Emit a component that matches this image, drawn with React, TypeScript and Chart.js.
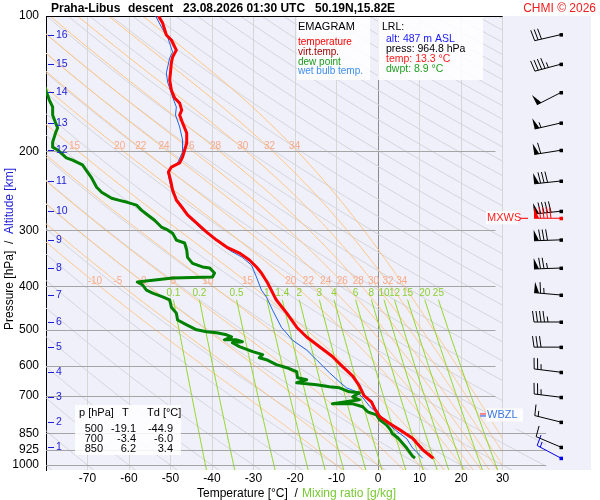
import React, { useEffect, useRef } from 'react';
import { Chart, registerables } from 'chart.js';

Chart.register(...registerables);

const FONT = "'Liberation Sans', Arial, sans-serif";

// axes
const pressureTicks = [100, 200, 300, 400, 500, 600, 700, 850, 925, 1000];
const tempTicks = [-70, -60, -50, -40, -30, -20, -10, 0, 10, 20, 30];

// altitude marks [km] with their pressure [hPa]
const altKm = [1, 2, 3, 4, 5, 6, 7, 8, 9, 10, 11, 12, 13, 14, 15, 16];
const altPres = [912, 802, 706, 621, 546, 480, 418, 364, 315, 272, 233, 199, 173, 148, 128, 110];

// wind at the altitude marks (same order as altKm)
const windDir = [293, 284, 277, 277, 270, 270, 275, 268, 268, 264, 264, 261, 257, 243, 255, 257];
const windSpd = [10, 15, 25, 25, 30, 45, 65, 75, 80, 90, 80, 60, 55, 50, 45, 30];
const sfcWind = { p: 964.8, dir: 298, spd: 15 };
const maxWind = { p: 282, dir: 270, spd: 90 };
const wbzlPres = 775;

// temperature
const tempPres = [100, 103.7, 110.2, 113.1, 119.1, 123.4, 127.2, 133.2, 138.9, 146.1, 152.3, 156.3, 162, 166.1, 173, 182.2, 191.9, 198.7, 206, 212.4, 216.9, 222.5, 231.8, 244, 256.8, 266.2, 277.3, 289, 302.8, 315.4, 326.9, 337.1, 349.4, 362, 373.3, 393, 422.1, 428.8, 458.6, 493, 518.3, 545, 573, 602.5, 633.5, 666, 700, 723, 749, 780, 808, 842, 871, 923, 959, 964.8];
const tempVals = [-52.9, -51.9, -51.0, -49.8, -48.6, -49.5, -49.8, -50.0, -50.2, -49.8, -49.0, -47.8, -47.3, -47.8, -47.1, -46.1, -46.1, -46.6, -47.1, -47.8, -49.8, -50.5, -50.0, -49.5, -48.6, -47.3, -45.9, -43.7, -41.3, -38.9, -36.5, -33.4, -31.0, -29.3, -28.1, -26.6, -24.9, -24.5, -22.0, -19.6, -17.2, -14.1, -11.0, -8.6, -6.1, -4.5, -3.4, -1.6, -0.8, 0.4, 2.8, 5.9, 8.3, 10.7, 12.9, 13.3];

// virtual temperature (lower part, upper part coincides with temperature)
const virtPres = [964.8, 923, 871, 842, 808, 780, 749, 723, 700, 666, 633.5, 602.5, 573, 545, 518.3, 493];
const virtVals = [13.6, 11.0, 8.6, 6.2, 3.1, 0.7, -0.6, -1.4, -3.2, -4.4, -6.0, -8.5, -10.9, -14.0, -17.2, -19.6];

// dew point
const dewPres = [138, 142.5, 147.6, 153.9, 159.4, 166.1, 174.8, 177.5, 182.2, 190.9, 195.9, 198.7, 207, 209.3, 214.6, 222.5, 229.4, 240.5, 246.8, 254.6, 257.3, 259.9, 263.6, 270.5, 277.3, 284.6, 295, 299.4, 304.4, 315.4, 320.2, 331.8, 344.6, 355.4, 362, 363.8, 373.3, 381.1, 383.1, 391, 397.2, 407.6, 414, 422.1, 428.6, 445, 458.6, 475.1, 487.1, 499.6, 504.7, 507.3, 512.5, 517.8, 525.8, 525.9, 531.1, 533.9, 544.5, 558.7, 567.5, 576.4, 582.3, 597.4, 606.8, 619.4, 638.8, 645.3, 655.4, 662.2, 669.1, 672.6, 686.4, 690, 704.3, 715.2, 726.4, 730, 730.1, 741.3, 760.6, 772.4, 792.5, 813.2, 834.5, 850, 870, 916, 955, 964.8];
const dewVals = [-81, -80.4, -79.9, -79.2, -78.4, -78.4, -77.5, -77.2, -77.7, -78.4, -78.4, -77.2, -75.1, -73.6, -71.2, -70.0, -69.0, -67.8, -66.6, -64.2, -62.3, -60.4, -58.2, -57.0, -55.5, -53.9, -52.2, -50.7, -49.5, -48.6, -46.6, -46.1, -45.9, -44.7, -42.3, -40.6, -39.4, -39.9, -49.5, -58.0, -56.7, -55.8, -54.3, -51.9, -50.2, -49.8, -48.6, -48.3, -46.1, -43.7, -41.3, -38.9, -36.5, -35.3, -37.0, -34.1, -32.7, -35.1, -33.4, -30.2, -27.8, -28.6, -26.9, -24.5, -22.0, -19.6, -19.4, -17.2, -19.6, -14.8, -11.7, -9.3, -6.9, -4.5, -6.1, -4.5, -9.3, -11.0, -6.1, -3.7, -2.5, -0.4, 0.4, 2.0, 3.0, 3.4, 4.8, 6.9, 8.3, 8.9];

// wet bulb temperature
const wbPres = [100, 105.8, 109.1, 111.4, 120.3, 124, 133.9, 140.3, 151.5, 159.4, 166.1, 176.6, 188.8, 200.8, 212.4, 221.3, 234.2, 248.1, 263.6, 281.8, 299.4, 315.4, 332.3, 344.6, 358.7, 381.1, 407.6, 422.1, 451.9, 493, 527, 554.3, 583, 622.6, 652.4, 672.6, 686.2, 707.3, 740, 763, 802.7, 840, 873, 915, 960, 964.8];
const wbVals = [-53.6, -52.2, -51.4, -50.7, -49.5, -50.2, -51.0, -50.7, -49.5, -48.6, -48.8, -47.8, -47.1, -47.1, -48.3, -50.7, -50.2, -49.5, -47.8, -45.4, -42.3, -38.9, -35.8, -32.7, -30.5, -29.3, -28.1, -26.9, -25.4, -23.3, -20.6, -17.2, -14.8, -11.7, -9.3, -7.6, -5.2, -3.7, -2.0, -0.4, 2.0, 4.5, 6.9, 8.3, 10.5, 10.7];

// background lines
const dryAdiabats: number[] = [];
for (let th = -80; th <= 370; th += 10) dryAdiabats.push(th); // potential temperature [°C]
const satAdiabats = [-10, -5, 0, 5, 10, 15, 20, 22, 24, 26, 28, 30, 32, 34];
const mixRatios = [0.1, 0.2, 0.5, 1, 1.4, 2, 3, 4, 6, 8, 10, 12, 15, 20, 25];
const satLabelPres = [392, 197];

// table in the lower left corner
const tablePres = [500, 700, 850];
const tableT = [-19.1, -3.4, 6.2];
const tableTd = [-44.9, -6.0, 3.4];

// lifted reference level
const lrl = { alt: 487, press: 964.8, temp: 13.3, dwpt: 8.9 };

// --- thermodynamics for the diagram lines ---
function esat(tK: number) {
  const tc = tK - 273.15;
  return 6.112 * Math.exp((17.67 * tc) / (tc + 243.5));
}

function moistGrad(p: number, tK: number) {
  const es = esat(tK);
  const rs = (0.622 * es) / (p - es);
  const Lv = 2.501e6, Rd = 287.04, cp = 1005.7;
  return (Rd * tK + Lv * rs) / (p * (cp + (Lv * Lv * rs * 0.622) / (Rd * tK * tK)));
}

function pseudoAdiabat(thw: number): [number, number][] {
  const low: [number, number][] = [];
  let pl = 1000, tl = thw + 273.15;
  for (let i = 0; i < 6; i++) {
    const dp = 5;
    const k1 = moistGrad(pl, tl);
    tl += moistGrad(pl + dp / 2, tl + (k1 * dp) / 2) * dp;
    pl += dp;
    low.push([pl, tl]);
  }
  const out: [number, number][] = low.reverse();
  let p = 1000, t = thw + 273.15;
  out.push([p, t]);
  const dp = -2;
  while (p > 100) {
    const k1 = moistGrad(p, t);
    t += moistGrad(p + dp / 2, t + (k1 * dp) / 2) * dp;
    p += dp;
    out.push([p, t]);
  }
  return out;
}

function tempAt(pts: [number, number][], p: number) {
  for (let i = 0; i < pts.length - 1; i++) {
    const [p1, t1] = pts[i];
    const [p2, t2] = pts[i + 1];
    if (p1 >= p && p >= p2) return t1 + ((t2 - t1) * (p - p1)) / (p2 - p1) - 273.15;
  }
  return NaN;
}

function mixTemp(w: number, p: number) {
  const e = (w * p) / (622 + w);
  const l = Math.log(e / 6.112);
  return (243.5 * l) / (17.67 - l);
}

const satLines = satAdiabats.map((thw) => ({ thw, pts: pseudoAdiabat(thw) }));

const pLevels: number[] = [];
for (let p = 1030; p >= 100; p -= 10) pLevels.push(p);

function drawBarb(ctx: CanvasRenderingContext2D, x: number, y: number, dir: number, spd: number, color: string) {
  const r = (dir * Math.PI) / 180;
  const ux = Math.sin(r), uy = -Math.cos(r);
  const nx = -uy, ny = ux;
  const len = 27, bl = 11;
  const ex = x + ux * len, ey = y + uy * len;
  const at = (d: number) => [ex - ux * d, ey - uy * d];
  ctx.save();
  ctx.strokeStyle = color;
  ctx.fillStyle = color;
  ctx.lineWidth = 1;
  ctx.beginPath();
  ctx.moveTo(x, y);
  ctx.lineTo(ex, ey);
  ctx.stroke();
  ctx.fillRect(x - 1.5, y - 1.5, 3.5, 3.5);
  let s = Math.round(spd / 5) * 5;
  let pos = 0;
  while (s >= 50) {
    const [bx, by] = at(pos);
    const [cx, cy] = at(pos + 5);
    ctx.beginPath();
    ctx.moveTo(bx + nx * bl, by + ny * bl);
    ctx.lineTo(bx, by);
    ctx.lineTo(cx, cy);
    ctx.closePath();
    ctx.fill();
    pos += 6.5;
    s -= 50;
  }
  while (s >= 10) {
    const [bx, by] = at(pos);
    ctx.beginPath();
    ctx.moveTo(bx, by);
    ctx.lineTo(bx + nx * bl + ux * 1.5, by + ny * bl + uy * 1.5);
    ctx.stroke();
    pos += 3.5;
    s -= 10;
  }
  if (s >= 5) {
    if (pos === 0) pos = 3.5;
    const [bx, by] = at(pos);
    ctx.beginPath();
    ctx.moveTo(bx, by);
    ctx.lineTo(bx + (nx * bl) / 2 + ux * 0.8, by + (ny * bl) / 2 + uy * 0.8);
    ctx.stroke();
  }
  ctx.restore();
}

const emagramPlugin = {
  id: 'emagram',
  beforeDraw(chart: any) {
    const { ctx, chartArea: a } = chart;
    ctx.save();
    ctx.fillStyle = '#ffffff';
    ctx.fillRect(0, 0, chart.width, chart.height);
    ctx.fillStyle = '#f0f0fa';
    ctx.fillRect(a.left, a.top, a.right - a.left, a.bottom - a.top);
    ctx.restore();
  },
  beforeDatasetsDraw(chart: any) {
    const { ctx, chartArea: a, scales } = chart;
    const X = (t: number) => scales.x.getPixelForValue(t);
    const Y = (p: number) => scales.y.getPixelForValue(p);

    // dry adiabats
    ctx.save();
    ctx.beginPath();
    ctx.moveTo(a.left, a.top);
    ctx.lineTo(X(30), a.top);
    ctx.lineTo(X(30), Y(830));
    ctx.lineTo(X(40.5), Y(830));
    ctx.lineTo(X(40.5), a.bottom);
    ctx.lineTo(a.left, a.bottom);
    ctx.closePath();
    ctx.clip();
    ctx.strokeStyle = 'rgb(212,212,218)';
    ctx.lineWidth = 1;
    dryAdiabats.forEach((th) => {
      ctx.beginPath();
      pLevels.forEach((p, i) => {
        const t = (th + 273.15) * Math.pow(p / 1000, 0.2857) - 273.15;
        if (i === 0) ctx.moveTo(X(t), Y(p));
        else ctx.lineTo(X(t), Y(p));
      });
      ctx.stroke();
    });
    ctx.restore();

    ctx.save();
    ctx.beginPath();
    ctx.rect(a.left, a.top, X(30) - a.left, a.bottom - a.top);
    ctx.clip();
    // saturated adiabats
    ctx.strokeStyle = 'rgb(255,196,130)';
    satLines.forEach(({ pts }) => {
      ctx.beginPath();
      pts.forEach(([p, t], i) => {
        if (i === 0) ctx.moveTo(X(t - 273.15), Y(p));
        else ctx.lineTo(X(t - 273.15), Y(p));
      });
      ctx.stroke();
    });
    // mixing ratio lines
    ctx.strokeStyle = 'rgb(146,214,40)';
    mixRatios.forEach((w) => {
      ctx.beginPath();
      for (let p = 1030; p >= 428; p -= 10) {
        const t = mixTemp(w, p);
        if (p === 1030) ctx.moveTo(X(t), Y(p));
        else ctx.lineTo(X(t), Y(p));
      }
      ctx.lineTo(X(mixTemp(w, 428)), Y(428));
      ctx.stroke();
    });
    ctx.restore();

    // labels of background lines
    ctx.save();
    ctx.font = `10px ${FONT}`;
    ctx.textAlign = 'center';
    ctx.textBaseline = 'middle';
    ctx.fillStyle = 'rgb(246,170,140)';
    satLabelPres.forEach((pl, k) => {
      const yl = Y(pressureTicks[k === 0 ? 3 : 1]) - 5;
      satLines.forEach(({ thw, pts }) => {
        const x = X(tempAt(pts, pl));
        if (x > a.left + 8 && x < X(30) - 4) ctx.fillText(String(thw), x, yl);
      });
    });
    ctx.fillStyle = 'rgb(140,208,50)';
    mixRatios.forEach((w) => {
      ctx.fillText(String(w), X(mixTemp(w, 428)), Y(428) - 6);
    });
    ctx.restore();

    // pressure grid
    ctx.save();
    ctx.lineWidth = 1;
    pressureTicks.forEach((p) => {
      const y = Math.round(Y(p)) + 0.5;
      ctx.strokeStyle = p === 100 ? '#000000' : 'rgb(165,165,165)';
      const xe = p === 100 ? X(30) : p >= 800 ? X(40.5) : X(28.3);
      ctx.beginPath();
      ctx.moveTo(a.left, y);
      ctx.lineTo(xe, y);
      ctx.stroke();
    });
    ctx.restore();
  },
  afterDraw(chart: any) {
    const { ctx, chartArea: a, scales } = chart;
    const Y = (p: number) => scales.y.getPixelForValue(p);
    ctx.save();

    // title
    ctx.textBaseline = 'alphabetic';
    ctx.textAlign = 'left';
    ctx.fillStyle = '#000';
    ctx.font = `bold 12px ${FONT}`;
    ctx.fillText('Praha-Libus', 51, 12);
    ctx.fillText('descent', 128, 12);
    ctx.fillText('23.08.2026 01:30 UTC', 183, 12);
    ctx.fillText('50.19N,15.82E', 315, 12);
    ctx.font = `12px ${FONT}`;
    ctx.fillStyle = '#ee1c1c';
    ctx.textAlign = 'right';
    ctx.fillText('CHMI \u00a9 2026', 596, 12);

    // axis titles
    ctx.textAlign = 'left';
    ctx.fillStyle = '#000';
    ctx.fillText('Temperature [\u00b0C]  /', 197, 497);
    ctx.fillStyle = 'rgb(120,200,50)';
    ctx.fillText('Mixing ratio [g/kg]', 302, 497);

    ctx.save();
    ctx.translate(13, 249);
    ctx.rotate(-Math.PI / 2);
    const p1 = 'Pressure [hPa]  /  ';
    const p2 = 'Altitude [km]';
    const w1 = ctx.measureText(p1).width;
    const w2 = ctx.measureText(p2).width;
    ctx.fillStyle = '#000';
    ctx.fillText(p1, -(w1 + w2) / 2, 0);
    ctx.fillStyle = '#1c1cd8';
    ctx.fillText(p2, -(w1 + w2) / 2 + w1, 0);
    ctx.restore();

    // altitude marks
    ctx.font = `10.5px ${FONT}`;
    ctx.textBaseline = 'middle';
    ctx.fillStyle = '#1c1cd8';
    ctx.strokeStyle = '#1c1cd8';
    altKm.forEach((km, i) => {
      const y = Math.round(Y(altPres[i])) + 0.5;
      ctx.beginPath();
      ctx.moveTo(a.left + 2, y);
      ctx.lineTo(a.left + 8, y);
      ctx.stroke();
      ctx.fillText(String(km), a.left + 10, y);
    });

    // legend box
    ctx.fillStyle = 'rgba(255,255,255,0.85)';
    ctx.fillRect(297, 17, 73, 63);
    ctx.fillRect(378, 17, 105, 63);
    ctx.textBaseline = 'alphabetic';
    ctx.font = `11px ${FONT}`;
    ctx.fillStyle = '#000';
    ctx.fillText('EMAGRAM', 298, 30);
    ctx.font = `10px ${FONT}`;
    ctx.fillStyle = '#ff0000';
    ctx.fillText('temperature', 298, 45);
    ctx.fillStyle = '#a00000';
    ctx.fillText('virt.temp.', 298, 55);
    ctx.fillStyle = '#1a9a1a';
    ctx.fillText('dew point', 298, 65);
    ctx.fillStyle = '#3c8cf0';
    ctx.fillText('wet bulb temp.', 298, 74);

    ctx.font = `10.5px ${FONT}`;
    ctx.fillStyle = '#000';
    ctx.fillText('LRL:', 382, 30);
    ctx.fillStyle = '#1a1aff';
    ctx.fillText(`alt: ${lrl.alt} m ASL`, 386, 42);
    ctx.fillStyle = '#000';
    ctx.fillText(`press: ${lrl.press.toFixed(1)} hPa`, 386, 52);
    ctx.fillStyle = '#ff1a1a';
    ctx.fillText(`temp: ${lrl.temp.toFixed(1)} \u00b0C`, 386, 62);
    ctx.fillStyle = '#22a022';
    ctx.fillText(`dwpt: ${lrl.dwpt.toFixed(1)} \u00b0C`, 386, 72);

    // table
    ctx.fillStyle = 'rgba(255,255,255,0.85)';
    ctx.fillRect(75, 405, 106, 50);
    ctx.fillStyle = '#000';
    ctx.font = `11px ${FONT}`;
    ctx.textAlign = 'left';
    ctx.fillText('p [hPa]', 79, 416);
    ctx.fillText('T', 122, 416);
    ctx.fillText('Td [\u00b0C]', 147, 416);
    ctx.textAlign = 'right';
    tablePres.forEach((p, i) => {
      const y = 432 + i * 10;
      ctx.fillText(String(p), 103, y);
      ctx.fillText(tableT[i].toFixed(1), 136, y);
      ctx.fillText(tableTd[i].toFixed(1), 173, y);
    });

    // wind barbs
    const bx = a.right - 30;
    altPres.forEach((p, i) => drawBarb(ctx, bx, Y(p), windDir[i], windSpd[i], '#000'));
    drawBarb(ctx, bx, Y(sfcWind.p), sfcWind.dir, sfcWind.spd, '#0000ee');
    drawBarb(ctx, bx, Y(maxWind.p), maxWind.dir, maxWind.spd, '#ff0000');

    // MXWS
    const ym = Y(maxWind.p);
    ctx.fillStyle = 'rgba(255,255,255,0.85)';
    ctx.fillRect(486, ym - 7, 32, 13);
    ctx.textAlign = 'left';
    ctx.textBaseline = 'middle';
    ctx.font = `11px ${FONT}`;
    ctx.fillStyle = '#ff2020';
    ctx.fillText('MXWS', 487, ym);
    ctx.fillRect(520, ym - 0.5, 8, 1.2);

    // WBZL
    const yw = Y(wbzlPres);
    ctx.fillStyle = 'rgba(255,255,255,0.85)';
    ctx.fillRect(486, yw - 7, 37, 13);
    ctx.fillStyle = '#ff2020';
    ctx.fillRect(480, yw - 2, 6, 1);
    ctx.fillStyle = '#2050e0';
    ctx.fillRect(480, yw, 6, 1);
    ctx.fillStyle = '#3c78e0';
    ctx.fillText('WBZL', 487, yw);

    ctx.restore();
  },
};

const series = (pres: number[], vals: number[]) => pres.map((p, i) => ({ x: vals[i], y: p }));

const lineStyle = { showLine: true, pointRadius: 0, tension: 0, borderJoinStyle: 'round' as const };

export default function App() {
  const canvasRef = useRef<HTMLCanvasElement | null>(null);

  useEffect(() => {
    if (!canvasRef.current) return;
    const chart = new Chart(canvasRef.current, {
      type: 'scatter',
      data: {
        datasets: [
          { ...lineStyle, label: 'temperature', data: series(tempPres, tempVals), borderColor: '#ff0000', borderWidth: 3, order: 0 },
          { ...lineStyle, label: 'dew point', data: series(dewPres, dewVals), borderColor: '#008200', borderWidth: 3, order: 1 },
          { ...lineStyle, label: 'virt.temp.', data: series(virtPres, virtVals), borderColor: '#a00000', borderWidth: 1, order: 2 },
          { ...lineStyle, label: 'wet bulb temp.', data: series(wbPres, wbVals), borderColor: '#2064e6', borderWidth: 1, order: 3 },
        ],
      },
      options: {
        animation: false,
        responsive: false,
        events: [],
        layout: { padding: { top: 16, right: 9, left: 0, bottom: 0 } },
        plugins: { legend: { display: false }, tooltip: { enabled: false } },
        scales: {
          x: {
            type: 'linear',
            min: -80,
            max: 51.3,
            afterBuildTicks: (s: any) => {
              s.ticks = tempTicks.map((v) => ({ value: v }));
            },
            afterFit: (s: any) => {
              s.height = 30;
            },
            ticks: {
              autoSkip: false,
              maxRotation: 0,
              padding: 1,
              color: '#000',
              font: { family: FONT, size: 12 },
              callback: (v: any) => String(v),
            },
            grid: {
              drawTicks: false,
              color: (c: any) => (c.tick && c.tick.value === 0 ? 'rgb(140,140,140)' : 'rgb(214,214,214)'),
            },
            border: { display: false },
          },
          y: {
            type: 'logarithmic',
            reverse: true,
            min: 100,
            max: 1025,
            afterBuildTicks: (s: any) => {
              s.ticks = pressureTicks.map((v) => ({ value: v }));
            },
            afterFit: (s: any) => {
              s.width = 46;
            },
            ticks: {
              autoSkip: false,
              padding: 7,
              color: '#000',
              font: { family: FONT, size: 12 },
              callback: (v: any) => String(v),
            },
            grid: { display: false, drawTicks: false },
            border: { display: true, color: '#000', width: 1 },
          },
        },
      },
      plugins: [emagramPlugin],
    } as any);
    return () => chart.destroy();
  }, []);

  return (
    <div style={{ position: 'absolute', left: 0, top: 0, width: 600, height: 500, background: '#fff' }}>
      <canvas ref={canvasRef} width={600} height={500} style={{ width: 600, height: 500 }} />
    </div>
  );
}
